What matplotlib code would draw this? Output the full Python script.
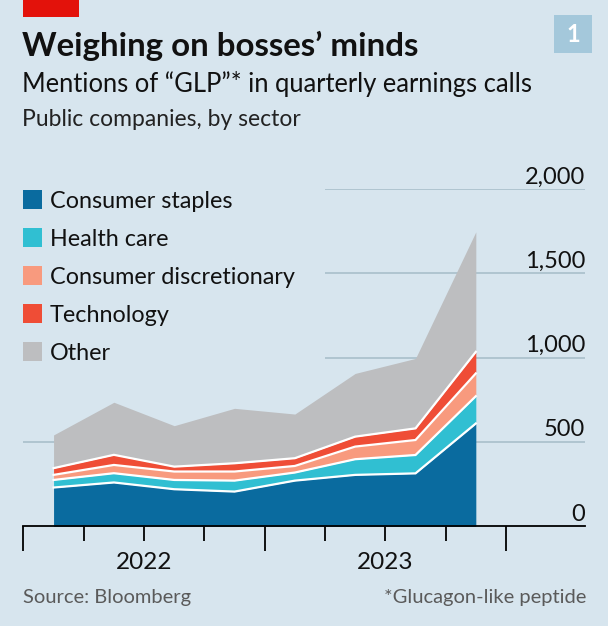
import matplotlib
matplotlib.use('Agg')
import matplotlib.pyplot as plt
from matplotlib.patches import Rectangle
import numpy as np

# quarterly data, 2022Q1 - 2023Q4 (cumulative read-offs converted to layers)
quarters = ["2022Q1", "2022Q2", "2022Q3", "2022Q4", "2023Q1", "2023Q2", "2023Q3", "2023Q4"]
consumer_staples = [230, 260, 220, 206, 271, 305, 314, 610]
health_care = [45, 55, 55, 65, 48, 93, 109, 162]
consumer_discretionary = [30, 49, 50, 54, 39, 75, 89, 135]
technology = [40, 60, 29, 49, 46, 59, 69, 128]
other = [197, 312, 243, 326, 262, 375, 415, 712]

series_names = ["Consumer staples", "Health care", "Consumer discretionary", "Technology", "Other"]
y_ticks = [0, 500, 1000, 1500, 2000]
year_labels = ["2022", "2023"]

colors = ["#0a6b9f", "#30bfd2", "#f89a7e", "#ef4d36", "#bdbec0"]
BG = "#d7e5ee"
GRID = "#a9bfcb"
FONT = "Lato"

W, H = 608, 626
fig = plt.figure(figsize=(W / 100, H / 100), dpi=100, facecolor=BG)


def fx(px):
    return px / W


def fy(py):
    return 1 - py / H


ax = fig.add_axes([fx(23.4), fy(526.3), fx(585) - fx(23.4), fy(189.2) - fy(526.3)])
ax.set_facecolor(BG)

x = np.arange(len(quarters)) + 0.5  # mid-quarter positions
layers = np.array([consumer_staples, health_care, consumer_discretionary, technology, other], dtype=float)
tops = np.cumsum(layers, axis=0)

ax.set_xlim(0, 9.31)
ax.set_ylim(0, 2000)

# gridlines (upper ones stop short of the legend)
for t in y_ticks[1:]:
    start = 0 if t == 500 else 5
    ax.plot([start, 9.31], [t, t], color=GRID, lw=1.2, zorder=0, solid_capstyle='butt')

bottom = np.zeros(len(x))
for i, layer in enumerate(tops):
    ax.fill_between(x, bottom, layer, color=colors[i], lw=0, zorder=2)
    bottom = layer
# white separators between layers
for layer in tops[:-1]:
    ax.plot(x, layer, color="white", lw=1.6, zorder=3, solid_joinstyle='miter')

for t in y_ticks:
    ax.text(9.31, t + 33, f"{t:,}", ha="right", va="baseline", fontsize=17,
            family=FONT, color="#111111", zorder=4)

for s in ["top", "right", "left"]:
    ax.spines[s].set_visible(False)
ax.spines["bottom"].set_linewidth(1.3)
ax.spines["bottom"].set_zorder(5)
ax.set_yticks([])
ax.set_xticks([0, 4, 8])
ax.set_xticklabels([])
ax.set_xticks([1, 2, 3, 5, 6, 7], minor=True)
ax.set_xticklabels(["", year_labels[0], "", "", year_labels[1], ""], minor=True)
ax.tick_params(axis="x", which="major", length=18, width=1.3, color="black")
ax.tick_params(axis="x", which="minor", length=10.5, width=1.3, color="black",
               pad=8, labelsize=17.5, labelcolor="#111111")
for lab in ax.get_xticklabels(minor=True):
    lab.set_family(FONT)

# legend
rows = [190, 228, 266, 303.5, 341.5]
for name, c, top in zip(series_names, colors, rows):
    fig.add_artist(Rectangle((fx(22.7), fy(top + 19)), 19 / W, 19 / H,
                             transform=fig.transFigure, color=c, lw=0))
    fig.text(fx(50), fy(top + 9.5), name, ha="left", va="center_baseline",
             fontsize=16.8, family=FONT, color="#111111")

# header
fig.add_artist(Rectangle((fx(22.7), fy(17)), (79.3 - 22.7) / W, 17 / H,
                         transform=fig.transFigure, color="#e3120b", lw=0))
fig.add_artist(Rectangle((fx(554), fy(53)), 38 / W, 38 / H,
                         transform=fig.transFigure, color="#a4c8db", lw=0))
fig.text(fx(573), fy(34), "1", ha="center", va="center", fontsize=17,
         fontweight="bold", family=FONT, color="white")
fig.text(fx(22), fy(56), "Weighing on bosses\u2019 minds", ha="left", va="baseline",
         fontsize=23.8, fontweight="bold", family=FONT, color="#111111")
fig.text(fx(22), fy(92), "Mentions of \u201cGLP\u201d* in quarterly earnings calls",
         ha="left", va="baseline", fontsize=18.4, family=FONT, color="#111111")
fig.text(fx(22), fy(126), "Public companies, by sector", ha="left", va="baseline",
         fontsize=16.5, family=FONT, color="#222222")

# footer
fig.text(fx(23), fy(603), "Source: Bloomberg", ha="left", va="baseline",
         fontsize=14.5, family=FONT, color="#5a5a5a")
fig.text(fx(586), fy(603), "*Glucagon-like peptide", ha="right", va="baseline",
         fontsize=14.5, family=FONT, color="#5a5a5a")

fig.savefig("out.png", dpi=100, facecolor=BG)
